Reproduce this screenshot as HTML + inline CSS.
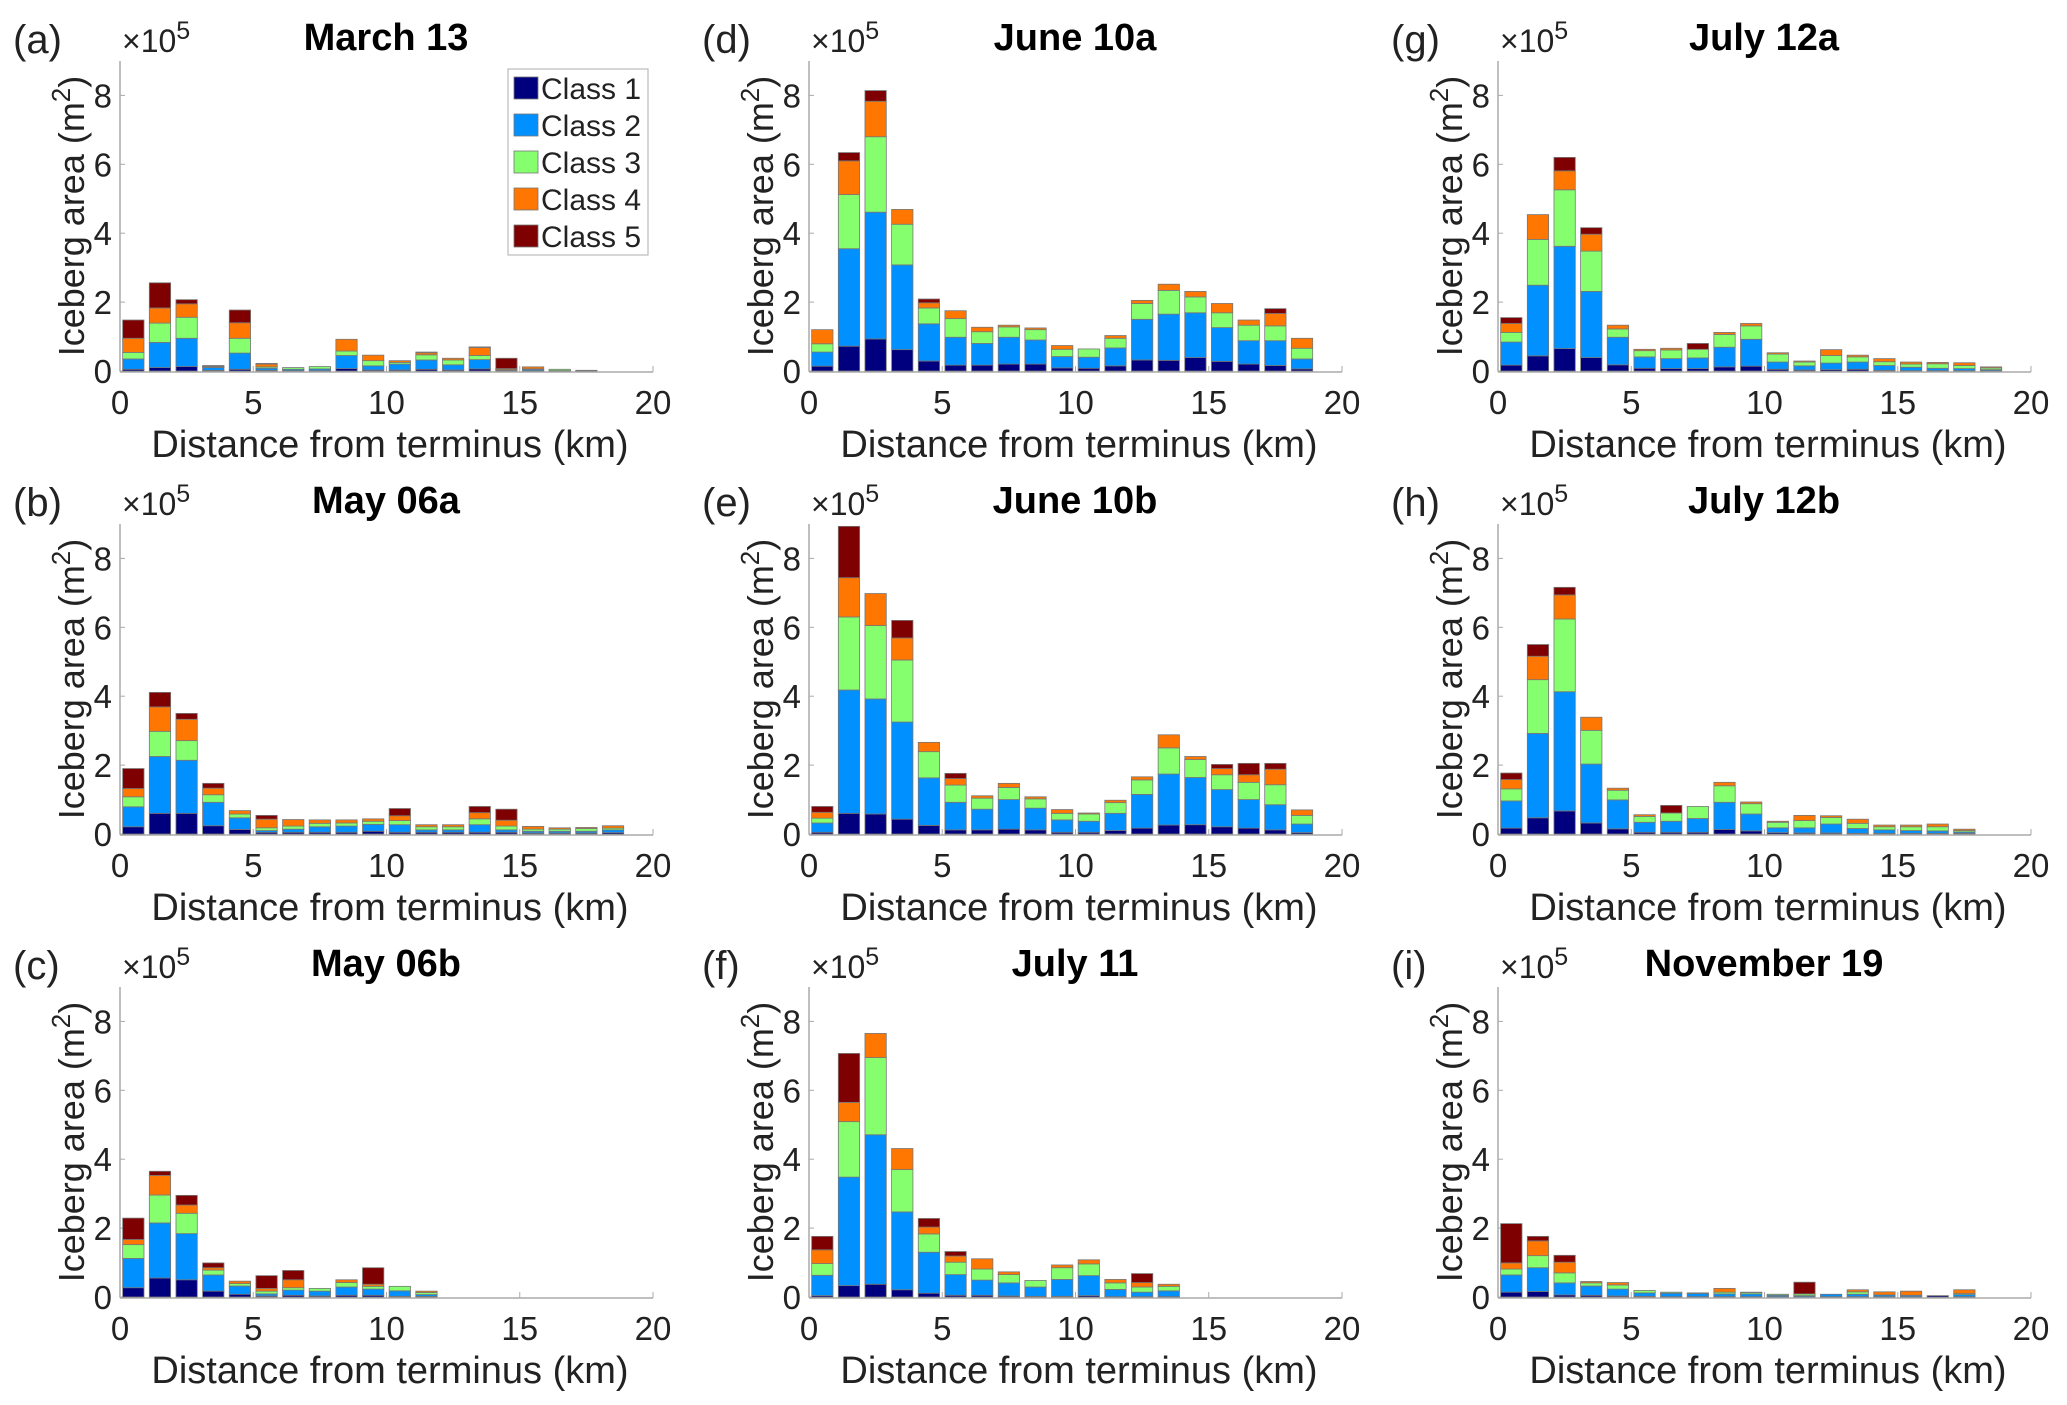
<!DOCTYPE html>
<html><head><meta charset="utf-8">
<style>
html,body{margin:0;padding:0;background:#fff;}
svg{display:block;font-family:"Liberation Sans",sans-serif;}
</style></head>
<body>
<svg id="fig" width="2067" height="1405" viewBox="0 0 2067 1405" xmlns="http://www.w3.org/2000/svg"></svg>
<script>
// Shared axis data
const binCenters = [0.5,1.5,2.5,3.5,4.5,5.5,6.5,7.5,8.5,9.5,10.5,11.5,12.5,13.5,14.5,15.5,16.5,17.5,18.5];
const xTicks = [0,5,10,15,20];
const yTicks = [0,2,4,6,8];
const classNames = ["Class 1","Class 2","Class 3","Class 4","Class 5"];
const panelTitles = ["March 13","May 06a","May 06b","June 10a","June 10b","July 11","July 12a","July 12b","November 19"];
const panelLetters = ["(a)","(b)","(c)","(d)","(e)","(f)","(g)","(h)","(i)"];
// Cumulative stack tops (units of 1e5 m^2), per class, per panel
const aCum1=[0.05,0.1,0.13,0.02,0.05,0.02,0.01,0.01,0.07,0.03,0.03,0.05,0.03,0.06,0,0.01,0,0,0];
const aCum2=[0.35,0.83,0.95,0.1,0.52,0.08,0.05,0.06,0.45,0.15,0.2,0.32,0.18,0.33,0.02,0.05,0.01,0,0];
const aCum3=[0.54,1.39,1.56,0.12,0.95,0.12,0.1,0.13,0.58,0.3,0.25,0.47,0.32,0.45,0.04,0.06,0.05,0.02,0];
const aCum4=[0.95,1.83,1.95,0.14,1.4,0.2,0.1,0.13,0.92,0.46,0.3,0.53,0.37,0.68,0.07,0.12,0.05,0.02,0];
const aCum5=[1.48,2.56,2.07,0.16,1.77,0.22,0.1,0.13,0.92,0.46,0.3,0.55,0.37,0.7,0.37,0.12,0.05,0.02,0];
const bCum1=[0.21,0.6,0.6,0.24,0.13,0.05,0.05,0.05,0.05,0.08,0.05,0.05,0.05,0.05,0.05,0.03,0.03,0.03,0.04];
const bCum2=[0.79,2.25,2.14,0.92,0.47,0.1,0.14,0.21,0.23,0.28,0.27,0.12,0.12,0.27,0.12,0.08,0.08,0.08,0.12];
const bCum3=[1.08,2.98,2.71,1.14,0.58,0.18,0.23,0.31,0.32,0.37,0.39,0.21,0.21,0.44,0.23,0.14,0.14,0.16,0.17];
const bCum4=[1.32,3.69,3.33,1.33,0.68,0.43,0.42,0.41,0.41,0.44,0.53,0.27,0.27,0.62,0.4,0.22,0.18,0.19,0.24];
const bCum5=[1.9,4.11,3.5,1.47,0.68,0.54,0.42,0.41,0.41,0.44,0.74,0.27,0.27,0.8,0.72,0.22,0.18,0.19,0.24];
const cCum1=[0.27,0.55,0.5,0.17,0.08,0.03,0.05,0.03,0.05,0.05,0.02,0.02,0,0,0,0,0,0,0];
const cCum2=[1.12,2.15,1.84,0.64,0.32,0.09,0.2,0.17,0.29,0.23,0.18,0.07,0,0,0,0,0,0,0];
const cCum3=[1.52,2.96,2.43,0.78,0.39,0.17,0.27,0.25,0.42,0.31,0.31,0.13,0,0,0,0,0,0,0];
const cCum4=[1.67,3.53,2.67,0.85,0.46,0.25,0.5,0.25,0.5,0.37,0.31,0.17,0,0,0,0,0,0,0];
const cCum5=[2.29,3.65,2.95,0.99,0.46,0.62,0.77,0.25,0.5,0.85,0.31,0.17,0,0,0,0,0,0,0];
const dCum1=[0.14,0.72,0.93,0.62,0.29,0.17,0.17,0.2,0.2,0.09,0.08,0.15,0.32,0.31,0.39,0.28,0.2,0.16,0.06];
const dCum2=[0.55,3.55,4.61,3.08,1.37,0.98,0.8,0.98,0.9,0.42,0.4,0.67,1.5,1.65,1.69,1.26,0.88,0.88,0.35];
const dCum3=[0.79,5.12,6.8,4.26,1.83,1.52,1.14,1.28,1.2,0.63,0.64,0.95,1.96,2.34,2.15,1.69,1.33,1.31,0.66];
const dCum4=[1.2,6.1,7.83,4.69,1.98,1.75,1.27,1.33,1.25,0.74,0.64,1.03,2.05,2.52,2.31,1.96,1.48,1.67,0.95];
const dCum5=[1.2,6.34,8.14,4.69,2.09,1.75,1.27,1.33,1.25,0.74,0.64,1.03,2.05,2.52,2.31,1.96,1.48,1.81,0.95];
const eCum1=[0.05,0.6,0.58,0.43,0.25,0.12,0.12,0.14,0.12,0.05,0.05,0.1,0.17,0.26,0.27,0.21,0.17,0.12,0.04];
const eCum2=[0.32,4.18,3.92,3.25,1.63,0.92,0.72,1.0,0.75,0.41,0.37,0.6,1.15,1.74,1.64,1.29,1.0,0.85,0.29];
const eCum3=[0.46,6.3,6.05,5.05,2.39,1.42,1.04,1.35,1.02,0.6,0.58,0.91,1.57,2.5,2.16,1.72,1.5,1.43,0.54];
const eCum4=[0.63,7.44,6.98,5.69,2.66,1.61,1.11,1.47,1.08,0.71,0.61,0.98,1.66,2.88,2.25,1.9,1.72,1.88,0.7];
const eCum5=[0.8,8.93,6.98,6.2,2.66,1.76,1.11,1.47,1.08,0.71,0.61,0.98,1.66,2.88,2.25,2.02,2.05,2.05,0.7];
const fCum1=[0.04,0.33,0.37,0.21,0.11,0.05,0.05,0.03,0.02,0.02,0.04,0.01,0.01,0.01,0,0,0,0,0];
const fCum2=[0.63,3.48,4.71,2.47,1.3,0.65,0.49,0.41,0.29,0.51,0.62,0.22,0.14,0.18,0,0,0,0,0];
const fCum3=[0.97,5.09,6.95,3.7,1.83,1.01,0.81,0.65,0.48,0.85,0.96,0.41,0.29,0.31,0,0,0,0,0];
const fCum4=[1.37,5.65,7.65,4.31,2.03,1.19,1.11,0.73,0.48,0.93,1.08,0.51,0.42,0.37,0,0,0,0,0];
const fCum5=[1.76,7.07,7.65,4.31,2.28,1.32,1.11,0.73,0.48,0.93,1.08,0.51,0.68,0.37,0,0,0,0,0];
const gCum1=[0.17,0.44,0.65,0.39,0.18,0.08,0.07,0.07,0.12,0.14,0.05,0.03,0.04,0.05,0.02,0.01,0.01,0.01,0.01];
const gCum2=[0.84,2.49,3.62,2.31,0.98,0.41,0.36,0.38,0.69,0.92,0.26,0.15,0.23,0.26,0.16,0.11,0.08,0.07,0.04];
const gCum3=[1.12,3.82,5.26,3.48,1.22,0.59,0.61,0.63,1.06,1.31,0.49,0.26,0.45,0.41,0.27,0.2,0.21,0.16,0.09];
const gCum4=[1.38,4.54,5.81,3.97,1.33,0.63,0.66,0.63,1.12,1.38,0.53,0.29,0.62,0.46,0.36,0.26,0.25,0.24,0.12];
const gCum5=[1.55,4.54,6.2,4.16,1.33,0.63,0.66,0.8,1.12,1.38,0.53,0.29,0.62,0.46,0.36,0.26,0.25,0.24,0.12];
const hCum1=[0.17,0.47,0.67,0.32,0.15,0.05,0.05,0.05,0.13,0.09,0.04,0.03,0.03,0.02,0.02,0.02,0.02,0.02,0];
const hCum2=[0.96,2.92,4.13,2.03,0.99,0.34,0.37,0.45,0.92,0.58,0.18,0.18,0.29,0.16,0.12,0.1,0.09,0.06,0];
const hCum3=[1.31,4.48,6.24,3.01,1.27,0.51,0.61,0.8,1.4,0.88,0.34,0.39,0.48,0.31,0.21,0.21,0.21,0.1,0];
const hCum4=[1.58,5.16,6.94,3.39,1.33,0.56,0.61,0.8,1.5,0.93,0.37,0.54,0.53,0.43,0.26,0.26,0.29,0.14,0];
const hCum5=[1.77,5.5,7.16,3.39,1.33,0.56,0.83,0.8,1.5,0.93,0.37,0.54,0.53,0.43,0.26,0.26,0.29,0.14,0];
const iCum1=[0.14,0.16,0.06,0.05,0.03,0.02,0.01,0.01,0.01,0.01,0.01,0.01,0.01,0.01,0.01,0.01,0.04,0.01,0];
const iCum2=[0.64,0.85,0.41,0.32,0.23,0.12,0.11,0.1,0.09,0.09,0.05,0.04,0.08,0.08,0.06,0.05,0.04,0.07,0];
const iCum3=[0.81,1.2,0.7,0.41,0.35,0.19,0.14,0.12,0.14,0.13,0.08,0.09,0.08,0.15,0.06,0.05,0.04,0.1,0];
const iCum4=[0.99,1.63,1.01,0.45,0.42,0.19,0.14,0.12,0.25,0.14,0.08,0.09,0.08,0.21,0.15,0.17,0.04,0.21,0];
const iCum5=[2.13,1.76,1.21,0.45,0.42,0.19,0.14,0.12,0.25,0.14,0.08,0.43,0.08,0.21,0.15,0.17,0.04,0.21,0];

const panelData = [
  [aCum1,aCum2,aCum3,aCum4,aCum5],[bCum1,bCum2,bCum3,bCum4,bCum5],[cCum1,cCum2,cCum3,cCum4,cCum5],
  [dCum1,dCum2,dCum3,dCum4,dCum5],[eCum1,eCum2,eCum3,eCum4,eCum5],[fCum1,fCum2,fCum3,fCum4,fCum5],
  [gCum1,gCum2,gCum3,gCum4,gCum5],[hCum1,hCum2,hCum3,hCum4,hCum5],[iCum1,iCum2,iCum3,iCum4,iCum5]
];
const colors = ["#00007f","#0090ff","#86ff6e","#ff7700","#7f0000"];

const NS = "http://www.w3.org/2000/svg";
const svg = document.getElementById("fig");
function mk(tag, attrs, parent, text){
  const e = document.createElementNS(NS, tag);
  for (const k in attrs) e.setAttribute(k, attrs[k]);
  if (text !== undefined) e.textContent = text;
  parent.appendChild(e);
  return e;
}
const colX = [120, 809, 1498];
const rowY = [371, 834, 1297];
const XW = 533, YU = 34.45;

panelData.forEach((cums, p) => {
  const col = Math.floor(p/3), row = p%3;
  const x0 = colX[col], y0 = rowY[row];
  const xs = v => x0 + v * XW / 20;
  const ys = v => y0 - v * YU;
  const g = mk("g", {}, svg);
  
  

  const yl = mk("line", {x1:x0, y1:ys(9), x2:x0, y2:y0, stroke:"#aaa", "stroke-width":1.5}, g);
  
  
  const xl = mk("line", {x1:x0, y1:y0+1, x2:xs(20), y2:y0+1, stroke:"#aaa", "stroke-width":1.5}, g);
  
  
  yTicks.forEach(t => {
    mk("line", {x1:x0, y1:ys(t), x2:x0+5, y2:ys(t), stroke:"#aaa", "stroke-width":1}, g);
    const tl = mk("text", {x:x0-8, y:ys(t)+12, "text-anchor":"end", "font-size":33, fill:"#222"}, g, String(t));
    
    
  });
  xTicks.forEach(t => {
    mk("line", {x1:xs(t), y1:y0+1, x2:xs(t), y2:y0-5, stroke:"#aaa", "stroke-width":1}, g);
    const tl = mk("text", {x:xs(t), y:y0+43, "text-anchor":"middle", "font-size":33, fill:"#222"}, g, String(t));
    
    
  });

  binCenters.forEach((c, i) => {
    let prev = 0;
    for (let k = 0; k < 5; k++) {
      const top = cums[k][i];
      if (top > prev) {
        const r = mk("rect", {x:xs(c-0.4), y:ys(top), width:xs(c+0.4)-xs(c-0.4), height:ys(prev)-ys(top),
          fill:colors[k], stroke:"#777", "stroke-width":0.8}, g);
        
        
        prev = top;
      }
    }
  });

  const lt = mk("text", {x:x0-107, y:y0-318, "font-size":40, fill:"#222"}, g, panelLetters[p]);
  
  
  const ex = mk("text", {x:x0+2, y:y0-319, "font-size":32, fill:"#222"}, g);
  
  
  ex.innerHTML = '×10<tspan dy="-13" font-size="25">5</tspan>';
  const ti = mk("text", {x:x0+266, y:y0-321, "text-anchor":"middle", "font-size":38, "font-weight":"bold", fill:"#000"}, g, panelTitles[p]);
  
  
  const yt = mk("text", {x:0, y:0, "text-anchor":"middle", "font-size":36, fill:"#222",
    transform:"translate(" + (x0-36) + "," + (y0-155) + ") rotate(-90)"}, g);
  
  
  yt.innerHTML = 'Iceberg area (m<tspan dy="-14" font-size="26">2</tspan><tspan dy="14">)</tspan>';
  const xt = mk("text", {x:x0+270, y:y0+86, "text-anchor":"middle", "font-size":38, fill:"#222"}, g, "Distance from terminus (km)");
  
  
});

const lg = mk("g", {}, svg);


mk("rect", {x:508, y:69, width:140, height:186, fill:"#fff", stroke:"#bbb", "stroke-width":1.2}, lg);
classNames.forEach((n, k) => {
  const yy = 88 + k*37;
  const e = mk("g", {}, lg);
  
  
  mk("rect", {x:514, y:yy-11, width:24, height:22, fill:colors[k], stroke:"#777", "stroke-width":0.8}, e);
  mk("text", {x:541, y:yy+11, "font-size":30, fill:"#222"}, e, n);
});
</script>
</body></html>
